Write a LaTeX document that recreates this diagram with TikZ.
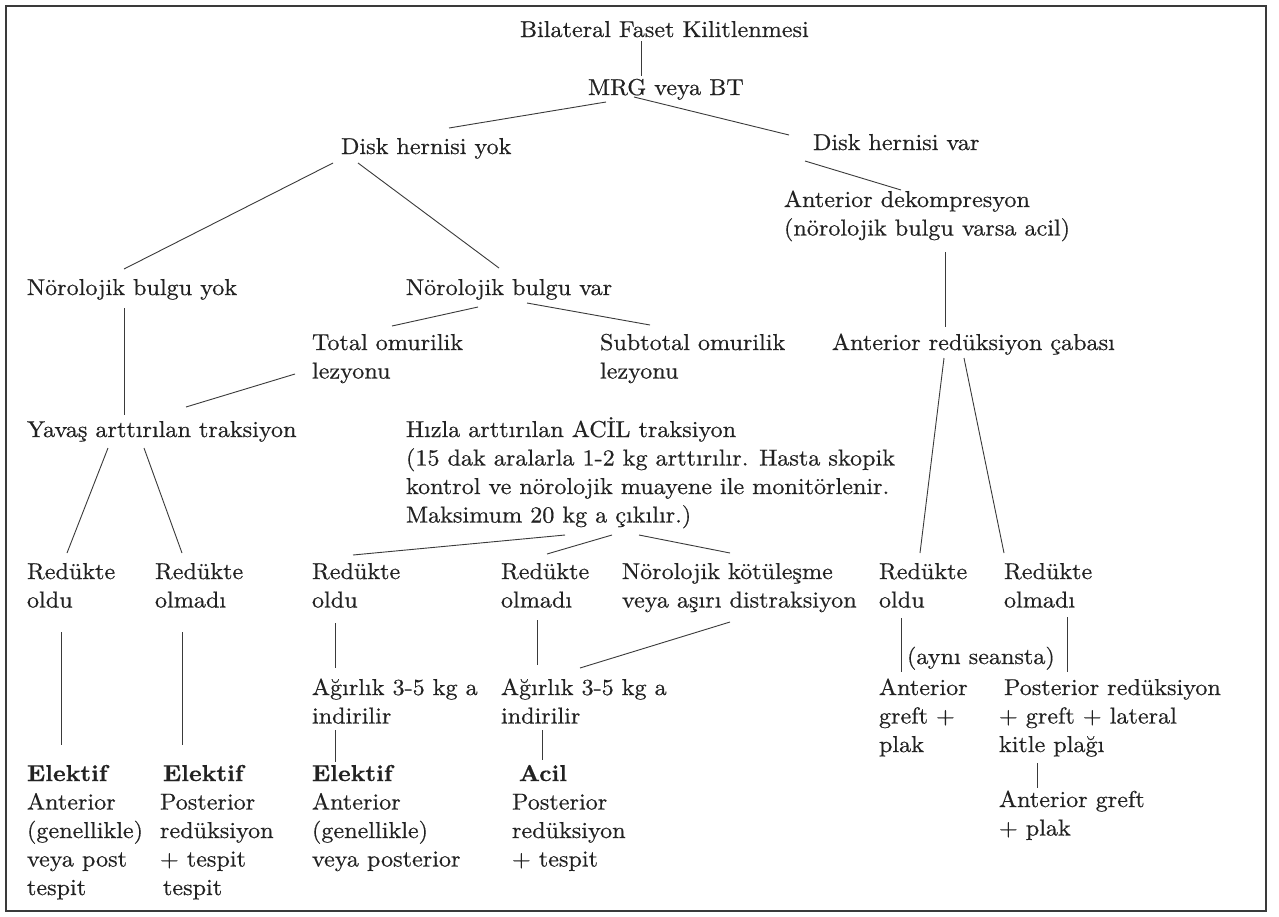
\documentclass[tikz,border=0pt]{standalone}
\usepackage{fontspec}
\setmainfont{lmroman10-regular.otf}[BoldFont=lmroman10-bold.otf, FakeStretch=1.05, FakeBold=0.5]
\usetikzlibrary{calc}
\definecolor{ink}{HTML}{222222}
\definecolor{wire}{HTML}{3A3A3A}
\newcommand{\ml}[1]{\begin{tabular}[t]{@{}l@{}}#1\end{tabular}}
\begin{document}
\begin{tikzpicture}[x=1pt,y=-1pt,
  lbl/.style={anchor=base west, inner sep=0pt, outer sep=0pt, text=ink,
              font=\fontsize{23}{28.5}\selectfont},
  wire/.style={draw=wire, line width=0.9pt}]
\useasboundingbox (0,0) rectangle (1279,916);
\fill[white] (0,0) rectangle (1279,916);
\draw[line width=1.6pt, draw=wire] (6,6) rectangle (1266,911);

% nodes
\node[lbl] (title) at (520,37) {\ml{Bilateral Faset Kilitlenmesi}};
\node[lbl] (mrg) at (588,95) {\ml{MRG veya BT}};
\node[lbl] (dyok) at (341,154) {\ml{Disk hernisi yok}};
\node[lbl] (dvar) at (813,150) {\ml{Disk hernisi var}};
\node[lbl] (adek) at (784,207) {\ml{Anterior dekompresyon\\(nörolojik bulgu varsa acil)}};
\node[lbl] (nyok) at (27,295) {\ml{Nörolojik bulgu yok}};
\node[lbl] (nvar) at (406,295) {\ml{Nörolojik bulgu var}};
\node[lbl] (total) at (312,350) {\ml{Total omurilik\\lezyonu}};
\node[lbl] (subtotal) at (600,350) {\ml{Subtotal omurilik\\lezyonu}};
\node[lbl] (ared) at (832,350) {\ml{Anterior redüksiyon çabası}};
\node[lbl] (yavas) at (27,437) {\ml{Yavaş arttırılan traksiyon}};
\node[lbl] (hizla) at (406,437) {\ml{Hızla arttırılan ACİL traksiyon\\(15 dak aralarla 1-2 kg arttırılır. Hasta skopik\\kontrol ve nörolojik muayene ile monitörlenir.\\Maksimum 20 kg a çıkılır.)}};
\node[lbl] (r1) at (27,579) {\ml{Redükte\\oldu}};
\node[lbl] (r2) at (155,579) {\ml{Redükte\\olmadı}};
\node[lbl] (r3) at (312,579) {\ml{Redükte\\oldu}};
\node[lbl] (r4) at (501,579) {\ml{Redükte\\olmadı}};
\node[lbl] (nkot) at (622,579) {\ml{Nörolojik kötüleşme\\veya aşırı distraksiyon}};
\node[lbl] (r5) at (879,579) {\ml{Redükte\\oldu}};
\node[lbl] (r6) at (1004,579) {\ml{Redükte\\olmadı}};
\node[lbl] (ayni) at (907,664) {\ml{(aynı seansta)}};
\node[lbl] (ag1) at (312,695) {\ml{Ağırlık 3-5 kg a\\indirilir}};
\node[lbl] (ag2) at (501,695) {\ml{Ağırlık 3-5 kg a\\indirilir}};
\node[lbl] (agreft) at (879,695) {\ml{Anterior\\greft +\\plak}};
\node[lbl] (preduk) at (999,695) {\ml{\hspace*{5pt}Posterior redüksiyon\\+ greft + lateral\\kitle plağı}};
\node[lbl] (agreft2) at (999,807) {\ml{Anterior greft\\+ plak}};
\node[lbl] (e1) at (27,781) {\ml{\textbf{Elektif}\\Anterior\\(genellikle)\\veya post\\tespit}};
\node[lbl] (e2) at (160,781) {\ml{\hspace*{3pt}\textbf{Elektif}\\Posterior\\redüksiyon\\+ tespit\\\hspace*{3pt}tespit}};
\node[lbl] (e3) at (312,781) {\ml{\textbf{Elektif}\\Anterior\\(genellikle)\\veya posterior}};
\node[lbl] (e4) at (512,781) {\ml{\hspace*{7pt}\textbf{Acil}\\Posterior\\redüksiyon\\+ tespit}};

% connectors
\draw[wire] ($(title.base west)+(121,4)$) -- ($(mrg.base west)+(53,-19)$);
\draw[wire] ($(mrg.base west)+(18,7)$) -- ($(dyok.base west)+(108,-26)$);
\draw[wire] ($(mrg.base west)+(46,2)$) -- ($(dvar.base west)+(-24,-15)$);
\draw[wire] ($(dyok.base west)+(-8,9)$) -- ($(nyok.base west)+(97,-26)$);
\draw[wire] ($(dyok.base west)+(17,9)$) -- ($(nvar.base west)+(93,-27)$);
\draw[wire] ($(dvar.base west)+(-8,11)$) -- ($(adek.base west)+(117,-17)$);
\draw[wire] ($(adek.base west)+(161,45)$) -- ($(ared.base west)+(113,-23)$);
\draw[wire] ($(nyok.base west)+(97,13)$) -- ($(yavas.base west)+(97,-22)$);
\draw[wire] ($(nvar.base west)+(72,12)$) -- ($(total.base west)+(80,-24)$);
\draw[wire] ($(nvar.base west)+(121,8)$) -- ($(subtotal.base west)+(50,-25)$);
\draw[wire] ($(total.base west)+(-17,24)$) -- ($(yavas.base west)+(159,-30)$);
\draw[wire] ($(yavas.base west)+(81,11)$) -- ($(r1.base west)+(40,-26)$);
\draw[wire] ($(yavas.base west)+(117,11)$) -- ($(r2.base west)+(27,-26)$);
\draw[wire] ($(r1.base west)+(34,53)$) -- ($(e1.base west)+(34,-36)$);
\draw[wire] ($(r2.base west)+(27,53)$) -- ($(e2.base west)+(22,-36)$);
\draw[wire] ($(ared.base west)+(112,8)$) -- ($(r5.base west)+(41,-26)$);
\draw[wire] ($(ared.base west)+(132,8)$) -- ($(r6.base west)+(0,-26)$);
\draw[wire] ($(hizla.base west)+(159,98)$) -- ($(r3.base west)+(41,-24)$);
\draw[wire] ($(hizla.base west)+(206,98)$) -- ($(r4.base west)+(46,-25)$);
\draw[wire] ($(hizla.base west)+(233,98)$) -- ($(nkot.base west)+(108,-26)$);
\draw[wire] ($(r3.base west)+(23,44)$) -- ($(ag1.base west)+(23,-27)$);
\draw[wire] ($(r4.base west)+(36,41)$) -- ($(ag2.base west)+(36,-30)$);
\draw[wire] ($(nkot.base west)+(108,43)$) -- ($(ag2.base west)+(79,-27)$);
\draw[wire] ($(ag1.base west)+(23,35)$) -- ($(e3.base west)+(23,-19)$);
\draw[wire] ($(ag2.base west)+(41,35)$) -- ($(e4.base west)+(30,-21)$);
\draw[wire] ($(r5.base west)+(22,39)$) -- ($(agreft.base west)+(22,-23)$);
\draw[wire] ($(r6.base west)+(63,38)$) -- ($(preduk.base west)+(68,-23)$);
\draw[wire] ($(preduk.base west)+(38,68)$) -- ($(agreft2.base west)+(38,-19)$);
\end{tikzpicture}
\end{document}
